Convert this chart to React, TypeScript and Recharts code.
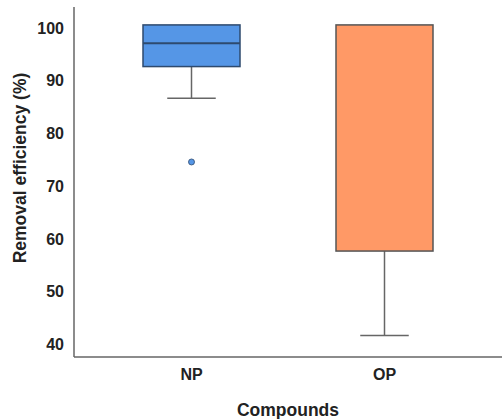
import { ComposedChart, Bar, Scatter, XAxis, YAxis } from "recharts";

const compounds = ["NP", "OP"];
const whiskerLow = [86.7, 41.7];
const q1 = [92.7, 57.7];
const median = [97.1, 100.6];
const q3 = [100.6, 100.6];
const whiskerHigh = [100.6, 100.6];
const outliers = [74.6, null];
const yTicks = [40, 50, 60, 70, 80, 90, 100];

const fills = ["#5596E6", "#FF9966"];
const edges = ["#2E4A6E", "#555555"];

const data = compounds.map((name, i) => ({
  name,
  low: whiskerLow[i],
  q1: q1[i],
  median: median[i],
  q3: q3[i],
  high: whiskerHigh[i],
  outlier: outliers[i],
  idx: i,
}));

const BoxShape = (props: any) => {
  const { x, y, width, height, payload } = props;
  const { low, high, idx } = payload;
  // bar spans [low, high]; map other values through the same linear scale
  const py = (v: number) => y + (height * (high - v)) / (high - low);
  const cx = x + width / 2;
  const cap = width / 4;
  const top = py(payload.q3);
  const bottom = py(payload.q1);
  const med = py(payload.median);
  return (
    <g>
      <line x1={cx} x2={cx} y1={py(high)} y2={top} stroke="#666" strokeWidth={1.5} />
      <line x1={cx} x2={cx} y1={bottom} y2={py(low)} stroke="#666" strokeWidth={1.5} />
      <line x1={cx - cap} x2={cx + cap} y1={py(low)} y2={py(low)} stroke="#666" strokeWidth={1.5} />
      <rect x={x} y={top} width={width} height={bottom - top} fill={fills[idx]} stroke={edges[idx]} strokeWidth={1.5} />
      {payload.median !== payload.q3 && (
        <line x1={x} x2={x + width} y1={med} y2={med} stroke={edges[idx]} strokeWidth={2} />
      )}
    </g>
  );
};

const OutlierDot = (props: any) => {
  const { cx, cy, payload } = props;
  if (payload.outlier == null) return <g />;
  return <circle cx={cx} cy={cy} r={3} fill={fills[payload.idx]} stroke="#2E4A6E" strokeWidth={0.8} />;
};

const tickStyle = { fontFamily: "Liberation Sans, Arial, sans-serif", fontSize: 16, fontWeight: 700, fill: "#222" };

const YLabel = (props: any) => {
  const { viewBox } = props;
  const cy = viewBox.y + viewBox.height / 2 - 14;
  return (
    <text
      x={20}
      y={cy}
      transform={`rotate(-90, 20, ${cy})`}
      textAnchor="middle"
      dominantBaseline="central"
      style={{ ...tickStyle, fontSize: 17.5 }}
    >
      Removal efficiency (%)
    </text>
  );
};

export default function App() {
  return (
    <div style={{ position: "absolute", left: 0, top: 0, width: 502, height: 419, background: "#fff" }}>
      <ComposedChart
        width={502}
        height={419}
        data={data}
        margin={{ top: 7, right: 0, bottom: 0, left: 0 }}
      >
        <XAxis
          dataKey="name"
          height={62}
          padding={{ left: 21, right: 21 }}
          axisLine={{ stroke: "#666", strokeWidth: 1.5 }}
          tickLine={false}
          tick={tickStyle}
          tickMargin={6}
          label={{
            value: "Compounds",
            position: "insideBottom",
            offset: 3,
            style: { ...tickStyle, fontSize: 17.5 },
          }}
        />
        <YAxis
          domain={[37.6, 104]}
          ticks={yTicks}
          width={74}
          axisLine={{ stroke: "#666", strokeWidth: 1.5 }}
          tickLine={false}
          tick={tickStyle}
          tickMargin={4}
          label={<YLabel />}
        />
        <Bar
          dataKey={(d: any) => [d.low, d.high]}
          barSize={97}
          shape={<BoxShape />}
          isAnimationActive={false}
        />
        <Scatter dataKey="outlier" shape={<OutlierDot />} isAnimationActive={false} />
      </ComposedChart>
    </div>
  );
}
